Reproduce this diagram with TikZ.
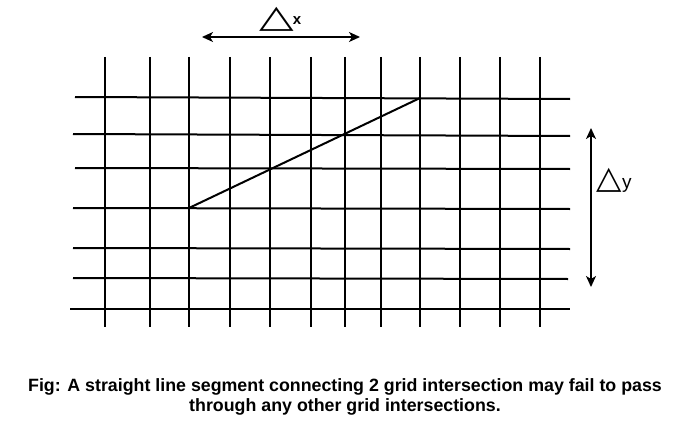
\documentclass[tikz,border=0pt]{standalone}
\usepackage{fontspec}
\setmainfont{Liberation Sans}
\newfontfamily\symfont{DejaVu Sans}
\usetikzlibrary{arrows.meta}
\begin{document}
\begin{tikzpicture}[x=1pt,y=-1pt,
  gridline/.style={line width=2pt,black},
  segline/.style={line width=2pt,black},
  dimarrow/.style={line width=1.6pt,{Stealth[length=11pt,width=10pt,inset=3pt]}-{Stealth[length=11pt,width=10pt,inset=3pt]}},
  lbl/.style={inner sep=0pt,anchor=base west},
  captext/.style={align=center,font=\bfseries\fontsize{17.8}{20.5}\selectfont,inner sep=0pt}]
\useasboundingbox (0,0) rectangle (691,428);
\fill[white] (0,0) rectangle (691,428);
% vertical lines
\foreach \x in {105,150,189,230,270,311,345,381,420,460,500,540}
  \draw[gridline] (\x,57) -- (\x,327);
% horizontal lines
\draw[gridline] (75,97) -- (570,99);
\draw[gridline] (73,134) -- (570,136);
\draw[gridline] (75,168) -- (570,169);
\draw[gridline] (73,208) -- (570,209);
\draw[gridline] (73,248) -- (570,249);
\draw[gridline] (73,278) -- (568,279);
\draw[gridline] (70,309) -- (570,309);
% segment
\coordinate (p1) at (189,208);
\coordinate (p2) at (420,98);
\draw[segline] (p1) -- (p2);
% dimension arrows
\coordinate (ax1) at (202,37);
\coordinate (ax2) at (360,37);
\draw[dimarrow] (ax1) -- (ax2);
\coordinate (ay1) at (591,128);
\coordinate (ay2) at (591,287);
\draw[dimarrow] (ay1) -- (ay2);
% labels
\node[lbl] (dx) at (259,27.5) {\scalebox{1.5}[1.05]{\symfont\fontsize{30}{30}\selectfont △}\kern-1pt\raisebox{3pt}{\bfseries\fontsize{15}{15}\selectfont x}};
\node[lbl] (dy) at (596,188.5) {\scalebox{1.1}[1.05]{\symfont\fontsize{30}{30}\selectfont △}\kern0.5pt{\fontsize{19}{19}\selectfont y}};
% caption
\node[captext] (caption) at (345,397) {Fig: A straight line segment connecting 2 grid intersection may fail to pass\\through any other grid intersections.};
\end{tikzpicture}
\end{document}
